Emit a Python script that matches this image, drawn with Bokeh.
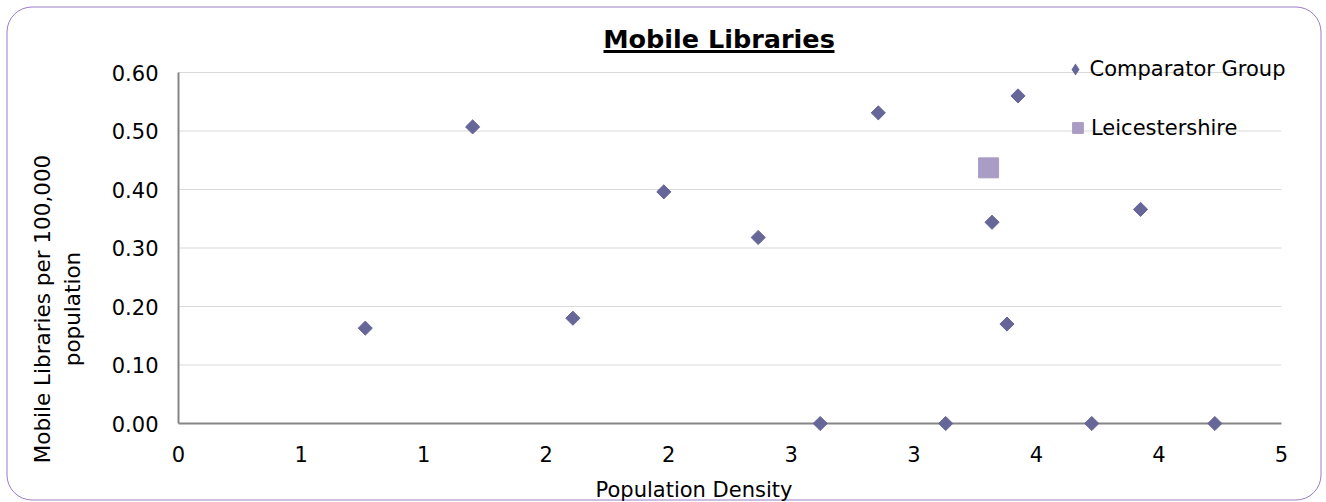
import math
from bokeh.plotting import figure
from bokeh.models import (Range1d, FixedTicker, NumeralTickFormatter, Legend, LegendItem,
                          BoxAnnotation, Label)
from bokeh.embed import file_html
from bokeh.resources import INLINE

# ---- data -------------------------------------------------------------
title_text = "Mobile Libraries"
x_title = "Population Density"
y_title = "Mobile Libraries per 100,000\npopulation"

comparator_name = "Comparator Group"
comparator_x = [0.762, 1.200, 1.609, 1.980, 2.365, 2.618, 2.855, 3.130, 3.319, 3.380, 3.425, 3.726, 3.925, 4.228]
comparator_y = [0.163, 0.507, 0.180, 0.396, 0.318, 0.000, 0.531, 0.000, 0.344, 0.170, 0.560, 0.000, 0.366, 0.000]

leics_name = "Leicestershire"
leics_x = [3.305]
leics_y = [0.437]

x_tick_values = [0.0, 0.5, 1.0, 1.5, 2.0, 2.5, 3.0, 3.5, 4.0, 4.5]
x_tick_labels = ["0", "1", "1", "2", "2", "3", "3", "4", "4", "5"]
y_tick_values = [0.0, 0.1, 0.2, 0.3, 0.4, 0.5, 0.6]

# ---- layout (pixels) -------------------------------------------------
W, H = 1326, 502
PLOT_L, PLOT_R, PLOT_T, PLOT_B = 178, 1281, 72, 423   # where the axes' ends sit

FONT = "DejaVu Sans"
COMP_COLOR = "#666699"
LEICS_COLOR = "#A99CC5"
AXIS_COLOR = "#868686"
GRID_COLOR = "#D9D9D9"
BORDER_COLOR = "#9A7CC8"

x_lo, x_hi = x_tick_values[0], x_tick_values[-1]
y_lo, y_hi = y_tick_values[0], y_tick_values[-1]
xpp = (x_hi - x_lo) / (PLOT_R - PLOT_L)   # data units per pixel
ypp = (y_hi - y_lo) / (PLOT_B - PLOT_T)

p = figure(width=W, height=H, output_backend="svg", toolbar_location=None, title=None,
           x_range=Range1d(x_lo - PLOT_L * xpp, x_hi + (W - PLOT_R) * xpp),
           y_range=Range1d(y_lo - (H - PLOT_B) * ypp, y_hi + PLOT_T * ypp),
           min_border=0, min_border_left=0, min_border_right=0,
           min_border_top=0, min_border_bottom=0)
p.outline_line_color = None
p.background_fill_color = "white"
p.border_fill_color = "white"
p.xgrid.visible = False
p.ygrid.visible = False

# rounded chart border
p.add_layout(BoxAnnotation(left=6.5, right=W - 5.5, bottom=2.5, top=H - 6.5,
                           left_units="screen", right_units="screen",
                           top_units="screen", bottom_units="screen",
                           fill_alpha=0, line_color=BORDER_COLOR, line_alpha=1.0,
                           line_width=1, border_radius=25, level="underlay"))

# horizontal gridlines
gy = y_tick_values[1:]
p.segment(x0=[x_lo] * len(gy), x1=[x_hi] * len(gy), y0=gy, y1=gy,
          line_color=GRID_COLOR, line_width=1)

# axes
for ax in (p.xaxis[0], p.yaxis[0]):
    ax.axis_line_color = AXIS_COLOR
    ax.axis_line_width = 2
    ax.major_tick_out = 0
    ax.major_tick_in = 0
    ax.minor_tick_out = 0
    ax.minor_tick_in = 0
    ax.major_label_text_font = FONT
    ax.major_label_text_font_size = "21px"
    ax.major_label_text_color = "black"
    ax.fixed_location = 0

xa = p.xaxis[0]
xa.ticker = FixedTicker(ticks=x_tick_values)
xa.major_label_overrides = {v: s for v, s in zip(x_tick_values, x_tick_labels)}
xa.bounds = (x_lo, x_hi)
xa.major_label_standoff = 22

ya = p.yaxis[0]
ya.ticker = FixedTicker(ticks=y_tick_values)
ya.formatter = NumeralTickFormatter(format="0.00")
ya.bounds = (y_lo, y_hi)
ya.major_label_standoff = 20

# title with underline (text centred vertically on the given point)
p.add_layout(Label(x=718.5, y=H - 38.5, x_units="screen", y_units="screen", text=title_text,
                   text_align="center", text_baseline="middle",
                   text_font=FONT, text_font_size="25.5px", text_font_style="bold",
                   text_color="black"))
p.add_layout(BoxAnnotation(left=603, right=834, bottom=H - 52.5, top=H - 49.5,
                           left_units="screen", right_units="screen",
                           top_units="screen", bottom_units="screen",
                           fill_color="black", fill_alpha=1.0, line_color=None))

# axis titles
p.add_layout(Label(x=693.5, y=H - 489, x_units="screen", y_units="screen", text=x_title,
                   text_align="center", text_baseline="middle",
                   text_font=FONT, text_font_size="21px", text_color="black"))
p.add_layout(Label(x=57, y=H - 308.5, x_units="screen", y_units="screen", text=y_title,
                   angle=math.pi / 2, text_align="center", text_baseline="middle",
                   text_line_height=1.2,
                   text_font=FONT, text_font_size="21.5px", text_color="black"))

# data
r1 = p.scatter(comparator_x, comparator_y, marker="square", size=10, angle=math.pi / 4,
               fill_color=COMP_COLOR, line_color=COMP_COLOR, level="overlay")
r2 = p.scatter(leics_x, leics_y, marker="square", size=20,
               fill_color=LEICS_COLOR, line_color=LEICS_COLOR, level="overlay")
# legend swatch for the comparator series (the legend draws markers unrotated,
# so this zero-size diamond copy of the series provides the key symbol)
r1_key = p.scatter(comparator_x, comparator_y, marker="diamond", size=0,
                   fill_color=COMP_COLOR, line_color=None)

def make_legend(name, rend, loc, gw):
    lg = Legend(items=[LegendItem(label=name, renderers=[rend])], location=loc,
                glyph_width=gw, glyph_height=gw, label_height=gw, label_standoff=0,
                padding=0, margin=0, spacing=0, border_line_color=None,
                background_fill_alpha=0, label_text_font=FONT,
                label_text_font_size="21px", label_text_color="black")
    p.add_layout(lg)
    return lg

make_legend(comparator_name, r1_key, (1059.5, H - 84), 30)
make_legend(leics_name, r2, (1064, H - 141), 27)

open("out.html", "w").write(file_html(p, INLINE))
